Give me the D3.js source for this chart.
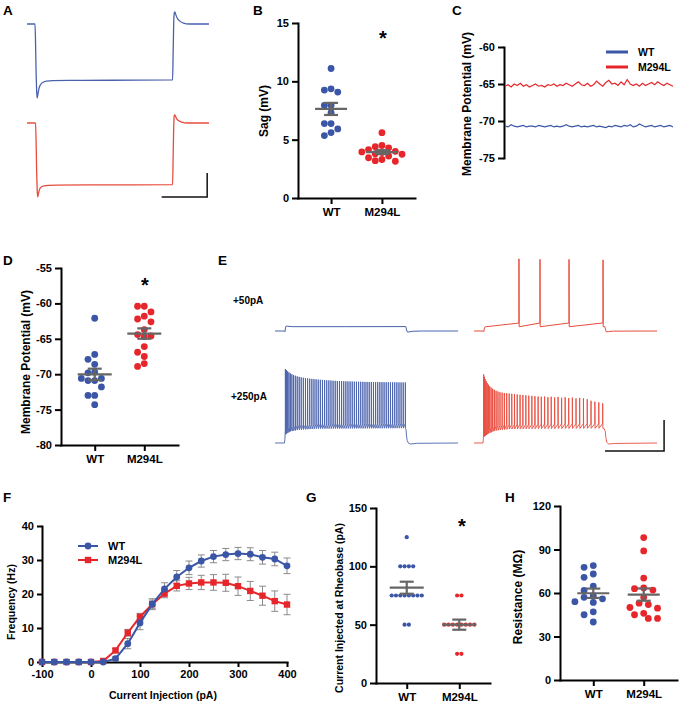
<!DOCTYPE html>
<html>
<head>
<meta charset="utf-8">
<script src="https://cdn.jsdelivr.net/npm/d3@7/dist/d3.min.js"></script>
<style>
  html,body{margin:0;padding:0;background:#fff;}
  svg{display:block;font-family:"Liberation Sans",Arial,Helvetica,sans-serif;font-weight:bold;}
</style>
</head>
<body>
<svg id="fig" width="680" height="705"></svg>
<script>
// ======================= DATA =======================
const groups = ["WT", "M294L"];

// Panel A: sag traces (time ms, membrane mV)
const aTimeWT = [0,44,47,50,53,56,60,66,75,90,110,140,300,600,800,803,806,809,812,818,826,840,860,890,930,1000];
const aVoltWT = [-60,-60,-64,-70,-74,-75.4,-74.6,-73.4,-72.6,-72.1,-71.9,-71.8,-71.75,-71.7,-71.65,-66,-60,-57.8,-57.5,-58.1,-58.8,-59.4,-59.8,-60,-60,-60];
const aTimeM = [0,47,50,53,56,59,62,66,72,80,95,120,160,400,800,803,806,809,812,816,822,832,850,880,930,1000];
const aVoltM = [-60,-60,-64,-70,-74,-75.4,-74.9,-74.2,-73.6,-73.3,-73.1,-73.0,-72.95,-72.9,-72.85,-67,-61,-58.5,-58.3,-58.6,-59.1,-59.5,-59.8,-60,-60,-60];
const aBarMs = 250, aBarMv = 5;

// Panel B: sag amplitude (mV)
const sagWT = [11.1, 9.08, 9.25, 9.36, 7.94, 7.94, 7.31, 6.38, 6.38, 5.92, 5.35, 5.61];
const sagM  = [5.6, 4.5, 4.4, 4.3, 4.15, 4.0, 3.95, 3.9, 3.8, 3.75, 3.6, 3.45, 3.3, 3.2, 3.15];
const sagTicks = [0, 5, 10, 15];

// Panel C: resting membrane potential traces (mV)
const restM  = [-65.3,-65.1,-65.4,-65.0,-65.2,-64.9,-65.3,-65.1,-65.4,-65.2,-65.0,-65.3,-65.2,-65.4,-65.1,-65.2,-65.0,-65.3,-65.1,-65.2,-64.9,-65.1,-65.3,-65.0,-64.7,-65.1,-65.2,-64.9,-65.3,-65.1,-64.6,-65.0,-65.3,-64.8,-64.5,-65.0,-64.9,-65.2,-64.7,-65.1,-64.4,-65.0,-65.2,-65.0,-65.3,-64.9,-65.2,-65.0,-64.8,-65.1,-64.7,-65.0,-65.2,-64.9,-65.1,-65.3];
const restWT = [-70.7,-70.8,-70.5,-70.7,-70.8,-70.7,-70.6,-70.8,-70.7,-70.7,-70.8,-70.6,-70.7,-70.8,-70.7,-70.6,-70.8,-70.7,-70.8,-70.7,-70.5,-70.7,-70.8,-70.7,-70.6,-70.8,-70.7,-70.8,-70.7,-70.6,-70.8,-70.7,-70.8,-70.9,-70.7,-70.8,-70.6,-70.7,-70.8,-70.6,-70.7,-70.5,-70.8,-70.7,-70.4,-70.6,-70.8,-70.7,-70.6,-70.8,-70.7,-70.6,-70.8,-70.7,-70.6,-70.8];
const restTicks = [-75, -70, -65, -60];

// Panel D: membrane potential (mV)
const vmWT = [-62.1,-67.9,-67.2,-68.6,-69.7,-69.8,-70.6,-70.6,-70.9,-70.9,-71.8,-73.0,-73.0,-74.3];
const vmM  = [-60.4,-60.4,-61.2,-61.8,-62.2,-62.6,-63.7,-64.6,-64.4,-64.7,-66.1,-66.9,-67.5,-68.5,-68.9];
const vmTicks = [-80, -75, -70, -65, -60, -55];

// Panel E: firing traces (time ms, mV)
const e50WT = [[0,-65],[82,-65],[85,-65.8],[89,-61],[94,-58.5],[105,-58.9],[150,-59.4],[600,-59.4],[1108,-59.3],[1113,-62.5],[1120,-66.3],[1135,-66.2],[1170,-65.3],[1250,-65],[1550,-65]];
const e50MEnv = [[0,-65],[80,-65],[83,-65.8],[88,-61],[95,-59.6],[1108,-59.4],[1113,-62.5],[1120,-66],[1140,-65.8],[1180,-65.2],[1550,-65]];
const e50MSpikes = [381, 559, 805, 1093];
const e50MPeaks  = [28.1, 27.5, 27.5, 26.8];
const e250WTEnv = [[0,-65],[80,-65],[84,-60],[88,-54],[130,-50],[200,-48],[350,-46.5],[1104,-45.8],[1110,-48],[1114,-56],[1120,-62],[1132,-65.5],[1150,-66.3],[1200,-65.4],[1550,-65]];
const e250WTSpikes = [88,97,107,118,130,143,157,172,188,205,222,240,258,276,294,312,330,348,366,384,402,420,438,456,474,492,510,528,546,564,582,600,618,636,654,672,690,708,726,744,762,780,798,816,834,852,870,888,906,924,942,960,978,996,1014,1032,1050,1068,1086,1104];
const e250WTPeaks  = [30.5,29,27.5,26,24.8,23.7,22.7,21.8,21,20.3,19.7,19.2,18.8,18.4,18,17.7,17.4,17.1,16.8,16.6,16.4,16.2,16,15.8,15.6,15.4,15.2,15,14.9,14.8,14.7,14.6,14.5,14.4,14.3,14.2,14.1,14,14,13.9,13.8,13.8,13.7,13.7,13.6,13.6,13.5,13.5,13.5,13.4,13.4,13.4,13.3,13.3,13.3,13.3,13.2,13.2,13.2,13.1];
const e250MEnv = [[0,-65],[76,-65],[80,-58],[84,-57],[120,-53],[180,-49],[300,-47],[600,-46.5],[1100,-46],[1112,-50],[1117,-58],[1124,-64],[1140,-66.3],[1190,-65.6],[1550,-65]];
const e250MSpikes = [82,88,95,103,112,122,133,145,158,172,187,203,220,238,257,277,298,320,343,366,390,414,439,464,490,516,543,570,598,626,654,683,712,742,772,802,833,864,895,927,959,991,1024,1057,1090];
const e250MPeaks  = [23.6,20.5,17.5,15,12.5,10.3,8.2,6.5,5,3.6,2.4,1.4,0.6,0,-0.5,-0.8,-1.2,-1.6,-2.0,-2.4,-2.8,-3.1,-3.5,-3.9,-4.2,-4.6,-5.0,-5.3,-5.0,-5.8,-5.3,-6.2,-5.6,-6.6,-6.0,-7.0,-6.4,-7.4,-6.8,-7.4,-8.5,-10.5,-11.7,-12.5,-13.8];
const eBarMs = 500, eBarMv = 40;
const eStepLabels = ["+50pA", "+250pA"];

// Panel F: frequency vs current injection
const fCurrent = [-100,-75,-50,-25,0,25,50,75,100,125,150,175,200,225,250,275,300,325,350,375,400];
const fWT    = [0,0,0,0,0,0,1.0,5.4,11.5,17.0,21.5,25.0,27.7,29.7,31.0,31.6,31.9,31.7,30.8,30.3,28.3];
const fWTsem = [0,0,0,0,0,0,0.5,1.5,2.0,1.6,1.8,1.9,2.0,1.8,1.8,1.8,1.8,1.9,2.0,2.0,2.3];
const fM     = [0,0,0,0,0,0.3,3.4,8.6,13.3,17.0,20.1,22.4,23.1,23.4,23.4,23.3,22.3,20.9,19.5,17.9,16.9];
const fMsem  = [0,0,0,0,0,0.2,0.5,1.0,1.0,1.2,1.2,1.5,1.8,2.1,2.3,2.5,2.7,2.8,2.8,3.0,3.0];
const fXTicks = [-100, 0, 100, 200, 300, 400];
const fYTicks = [0, 10, 20, 30, 40];

// Panel G: rheobase current (pA)
const rheoWT = [125,100,100,100,100,75,75,75,75,75,75,75,75,50,50];
const rheoM  = [75,75,50,50,50,50,50,50,50,50,25,25];
const rheoTicks = [0, 50, 100, 150];

// Panel H: input resistance (MOhm)
const resWT = [77.7,78.9,70.8,73.1,64.8,61.8,56.0,57.0,54.0,53.5,47.0,45.0,40.0,58.0];
const resM  = [98.2,89.0,70.3,63.5,63.0,62,57,53,52,50,49.5,46,45,42.5,42.5];
const resTicks = [0, 30, 60, 90, 120];

// ======================= DRAWING =======================
const svg = d3.select("#fig");
const BLUE = "#3b56a6", RED = "#e6262b", GREY = "#666666";
const TBLUE = "#4a62ad", TRED = "#e84c3d";
const fmt = d => String(d);

function styleAxis(g, fs) {
  g.attr("font-family", null).attr("font-size", null);
  g.selectAll("path.domain").attr("stroke", "#000").attr("stroke-width", 2).attr("stroke-linecap", "square");
  g.selectAll(".tick line").attr("stroke", "#000").attr("stroke-width", 2);
  g.selectAll(".tick text").attr("fill", "#000").style("font-size", fs + "px").style("font-weight", "bold");
}
function vTitle(cx, cy, text, fs) {
  svg.append("text").attr("transform", `translate(${cx},${cy}) rotate(-90)`)
    .attr("text-anchor", "middle").attr("dy", "0.35em").style("font-size", fs + "px").text(text);
}
function letter(x, y, t) {
  svg.append("text").attr("x", x).attr("y", y).style("font-size", "13.5px").text(t);
}
function star(x, y) {
  svg.append("text").attr("x", x).attr("y", y).attr("text-anchor", "middle").style("font-size", "20px").text("*");
}
const mean = a => d3.mean(a);
const sem = a => d3.deviation(a) / Math.sqrt(a.length);

function swarm(values, y, r, step, rows) {
  const off = new Array(values.length);
  if (rows) {
    const byVal = d3.group(values.map((v, i) => i), i => values[i]);
    byVal.forEach(idx => idx.forEach((i, j) => off[i] = (j - (idx.length - 1) / 2) * step));
    return off;
  }
  const order = values.map((v, i) => i).sort((a, b) => values[b] - values[a]);
  const placed = [];
  order.forEach(i => {
    const yy = y(values[i]);
    for (let k = 0; k < 60; k++) {
      const o = (k % 2 === 0 ? 1 : -1) * Math.ceil(k / 2) * step;
      const hit = placed.some(p => (p.o - o) ** 2 + (p.y - yy) ** 2 < (2 * r) ** 2 * 0.92);
      if (!hit) { off[i] = o; placed.push({o, y: yy}); break; }
    }
  });
  return off;
}

function scatterPanel(o) {
  const x = d3.scalePoint().domain(groups).range([o.x0, o.x1]).padding(o.pad);
  const y = o.y;
  const ya = svg.append("g").attr("transform", `translate(${o.x0},0)`)
    .call(d3.axisLeft(y).tickValues(o.ticks).tickFormat(fmt).tickSize(6).tickSizeOuter(0).tickPadding(3));
  styleAxis(ya, o.tickFs);
  const xa = svg.append("g").attr("transform", `translate(0,${y.range()[0]})`)
    .call(d3.axisBottom(x).tickSize(6).tickSizeOuter(0).tickPadding(4));
  styleAxis(xa, o.labelFs);
  [[o.wt, BLUE, "WT"], [o.m, RED, "M294L"]].forEach(([vals, col, gname]) => {
    const offs = swarm(vals, y, o.r, o.step, o.rows);
    svg.append("g").selectAll("circle").data(vals).join("circle")
      .attr("cx", (d, i) => x(gname) + offs[i]).attr("cy", d => y(d)).attr("r", o.r).attr("fill", col);
    const m = mean(vals), s = sem(vals), cx = x(gname);
    const g = svg.append("g").attr("stroke", GREY).attr("stroke-width", 2.2).attr("fill", "none");
    g.append("line").attr("x1", cx - o.meanW).attr("x2", cx + o.meanW).attr("y1", y(m)).attr("y2", y(m));
    g.append("line").attr("x1", cx).attr("x2", cx).attr("y1", y(m - s)).attr("y2", y(m + s));
    [m - s, m + s].forEach(v => g.append("line").attr("x1", cx - o.capW).attr("x2", cx + o.capW).attr("y1", y(v)).attr("y2", y(v)));
  });
  return x;
}

// ---------- Panel A ----------
letter(3, 15, "A");
const xA = d3.scaleLinear().domain([0, 1000]).range([27, 209]);
const yA1 = d3.scaleLinear().domain([-75, -60]).range([24 + 15 * 4.8, 24]);
const yA2 = d3.scaleLinear().domain([-75, -60]).range([123 + 15 * 4.8, 123]);
svg.append("path").datum(d3.zip(aTimeWT, aVoltWT))
  .attr("d", d3.line().x(d => xA(d[0])).y(d => yA1(d[1])).curve(d3.curveMonotoneX))
  .attr("fill", "none").attr("stroke", TBLUE).attr("stroke-width", 1.3);
svg.append("path").datum(d3.zip(aTimeM, aVoltM))
  .attr("d", d3.line().x(d => xA(d[0])).y(d => yA2(d[1])).curve(d3.curveMonotoneX))
  .attr("fill", "none").attr("stroke", TRED).attr("stroke-width", 1.3);
{
  const tEnd = 990, vBot = d3.min(aVoltM);
  svg.append("path")
    .attr("d", `M${xA(tEnd - aBarMs)},${yA2(vBot)}H${xA(tEnd)}V${yA2(vBot + aBarMv)}`)
    .attr("fill", "none").attr("stroke", "#111").attr("stroke-width", 1.5);
}

// ---------- Panel B ----------
letter(253, 15, "B");
const yB = d3.scaleLinear().domain([0, 15]).range([198, 23]);
scatterPanel({x0: 298, x1: 415, pad: 0.65, y: yB, ticks: sagTicks, wt: sagWT, m: sagM,
  r: 3.4, step: 6.7, meanW: 16, capW: 7, tickFs: 11, labelFs: 11.5});
vTitle(264, 111, "Sag (mV)", 12);
star(383, 45);

// ---------- Panel C ----------
letter(452, 15, "C");
const yC = d3.scaleLinear().domain([-75, -60]).range([158, 47]);
const xCm = d3.scaleLinear().domain([0, restM.length - 1]).range([505, 673]);
const xCw = d3.scaleLinear().domain([0, restWT.length - 1]).range([505, 673]);
const yCa = svg.append("g").attr("transform", "translate(504,0)")
  .call(d3.axisLeft(yC).tickValues(restTicks).tickFormat(fmt).tickSize(6).tickSizeOuter(0).tickPadding(3));
styleAxis(yCa, 11);
svg.append("path").datum(restM).attr("d", d3.line().x((d, i) => xCm(i)).y(d => yC(d)))
  .attr("fill", "none").attr("stroke", RED).attr("stroke-width", 1.2);
svg.append("path").datum(restWT).attr("d", d3.line().x((d, i) => xCw(i)).y(d => yC(d)))
  .attr("fill", "none").attr("stroke", BLUE).attr("stroke-width", 1.2);
vTitle(467, 104, "Membrane Potential (mV)", 12);
[["WT", BLUE, 52], ["M294L", RED, 67]].forEach(([t, c, yy]) => {
  svg.append("line").attr("x1", 606).attr("x2", 628).attr("y1", yy).attr("y2", yy).attr("stroke", c).attr("stroke-width", 3);
  svg.append("text").attr("x", 638).attr("y", yy).attr("dy", "0.36em").style("font-size", "10.5px").text(t);
});

// ---------- Panel D ----------
letter(3, 265, "D");
const yD = d3.scaleLinear().domain([-80, -55]).range([445, 268]);
scatterPanel({x0: 61, x1: 178, pad: 0.68, y: yD, ticks: vmTicks, wt: vmWT, m: vmM,
  r: 3.4, step: 6.7, meanW: 17, capW: 7, tickFs: 11, labelFs: 11.5});
vTitle(26, 362, "Membrane Potential (mV)", 12);
star(145, 292);

// ---------- Panel E ----------
letter(218, 265, "E");
const xE1 = d3.scaleLinear().domain([0, 1550]).range([275, 458]);
const xE2 = d3.scaleLinear().domain([0, 1550]).range([474, 657]);
const yETop = d3.scaleLinear().domain([-65, 35]).range([331, 331 - 77.5]);
const yEBot = d3.scaleLinear().domain([-65, 35]).range([443, 443 - 77.5]);
function spikeTrace(env, spikes, peaks, rise) {
  const envT = env.map(d => d[0]), envV = env.map(d => d[1]);
  const f = d3.scaleLinear().domain(envT).range(envV);
  const first = spikes[0], last = spikes[spikes.length - 1];
  const pts = env.filter(d => d[0] < first - 1).slice();
  spikes.forEach((ts, i) => {
    pts.push([ts - 0.7, f(ts) + rise]);
    pts.push([ts, peaks[i]]);
    pts.push([ts + 1.6, f(ts + 1.6)]);
  });
  env.filter(d => d[0] > last + 2).forEach(d => pts.push(d));
  return pts;
}
function drawTrace(pts, xs, ys, col, w) {
  svg.append("path").datum(pts).attr("d", d3.line().x(d => xs(d[0])).y(d => ys(d[1])))
    .attr("fill", "none").attr("stroke", col).attr("stroke-width", w).attr("stroke-linejoin", "round");
}
drawTrace(e50WT, xE1, yETop, TBLUE, 1);
drawTrace(spikeTrace(e50MEnv, e50MSpikes, e50MPeaks, 4.8), xE2, yETop, TRED, 1);
drawTrace(spikeTrace(e250WTEnv, e250WTSpikes, e250WTPeaks, 6), xE1, yEBot, TBLUE, 0.9);
drawTrace(spikeTrace(e250MEnv, e250MSpikes, e250MPeaks, 6), xE2, yEBot, TRED, 0.9);
svg.append("text").attr("x", 233).attr("y", 304).style("font-size", "10px").text(eStepLabels[0]);
svg.append("text").attr("x", 231).attr("y", 400).style("font-size", "10px").text(eStepLabels[1]);
{
  const t0 = 1110, vb = -75.3;
  svg.append("path")
    .attr("d", `M${xE2(t0)},${yEBot(vb)}H${xE2(t0 + eBarMs)}V${yEBot(vb + eBarMv)}`)
    .attr("fill", "none").attr("stroke", "#111").attr("stroke-width", 1.5);
}

// ---------- Panel F ----------
letter(3, 502, "F");
const xF = d3.scaleLinear().domain([-100, 400]).range([42, 287]);
const yF = d3.scaleLinear().domain([0, 40]).range([662, 526]);
const fxa = svg.append("g").attr("transform", "translate(0,662)")
  .call(d3.axisBottom(xF).tickValues(fXTicks).tickFormat(fmt).tickSize(5).tickSizeOuter(0).tickPadding(3));
styleAxis(fxa, 11);
const fya = svg.append("g").attr("transform", "translate(42,0)")
  .call(d3.axisLeft(yF).tickValues(fYTicks).tickFormat(fmt).tickSize(5).tickSizeOuter(0).tickPadding(3));
styleAxis(fya, 11);
vTitle(11, 602, "Frequency (Hz)", 10.5);
svg.append("text").attr("x", 163).attr("y", 699).attr("text-anchor", "middle").style("font-size", "10.5px").text("Current Injection (pA)");
const fSeries = [
  {v: fM, e: fMsem, col: RED, sq: true},
  {v: fWT, e: fWTsem, col: BLUE, sq: false}
];
fSeries.forEach(s => {
  const gE = svg.append("g").attr("stroke", "#8a8a8a").attr("stroke-width", 1);
  fCurrent.forEach((c, i) => {
    if (s.e[i] <= 0) return;
    const xx = xF(c);
    gE.append("line").attr("x1", xx).attr("x2", xx).attr("y1", yF(s.v[i] - s.e[i])).attr("y2", yF(s.v[i] + s.e[i]));
    [s.v[i] - s.e[i], s.v[i] + s.e[i]].forEach(v => gE.append("line").attr("x1", xx - 3.5).attr("x2", xx + 3.5).attr("y1", yF(v)).attr("y2", yF(v)));
  });
});
fSeries.forEach(s => {
  svg.append("path").datum(d3.zip(fCurrent, s.v)).attr("d", d3.line().x(d => xF(d[0])).y(d => yF(d[1])))
    .attr("fill", "none").attr("stroke", s.col).attr("stroke-width", 2);
  const g = svg.append("g").attr("fill", s.col);
  if (s.sq) {
    g.selectAll("rect").data(d3.zip(fCurrent, s.v)).join("rect")
      .attr("x", d => xF(d[0]) - 3.2).attr("y", d => yF(d[1]) - 3.2).attr("width", 6.4).attr("height", 6.4);
  } else {
    g.selectAll("circle").data(d3.zip(fCurrent, s.v)).join("circle")
      .attr("cx", d => xF(d[0])).attr("cy", d => yF(d[1])).attr("r", 3.4);
  }
});
[["WT", BLUE, 546, false], ["M294L", RED, 560, true]].forEach(([t, c, yy, sq]) => {
  svg.append("line").attr("x1", 78).attr("x2", 98).attr("y1", yy).attr("y2", yy).attr("stroke", c).attr("stroke-width", 2);
  if (sq) svg.append("rect").attr("x", 88 - 3.2).attr("y", yy - 3.2).attr("width", 6.4).attr("height", 6.4).attr("fill", c);
  else svg.append("circle").attr("cx", 88).attr("cy", yy).attr("r", 3.4).attr("fill", c);
  svg.append("text").attr("x", 108).attr("y", yy).attr("dy", "0.36em").style("font-size", "11px").text(t);
});

// ---------- Panel G ----------
letter(306, 502, "G");
const yG = d3.scaleLinear().domain([0, 150]).range([683, 508]);
scatterPanel({x0: 376, x1: 490, pad: 0.585, y: yG, ticks: rheoTicks, wt: rheoWT, m: rheoM,
  r: 2.1, step: 4.3, rows: true, meanW: 17, capW: 7, tickFs: 11, labelFs: 11.5});
vTitle(339, 608, "Current Injected at Rheobase (pA)", 10.5);
star(462, 533);

// ---------- Panel H ----------
letter(505, 502, "H");
const yH = d3.scaleLinear().domain([0, 120]).range([680, 506]);
scatterPanel({x0: 560, x1: 677, pad: 0.66, y: yH, ticks: resTicks, wt: resWT, m: resM,
  r: 3.4, step: 4.6, meanW: 16, capW: 7, tickFs: 11, labelFs: 11.5});
vTitle(518, 597, "Resistance (M\u03A9)", 12);
</script>
</body>
</html>
